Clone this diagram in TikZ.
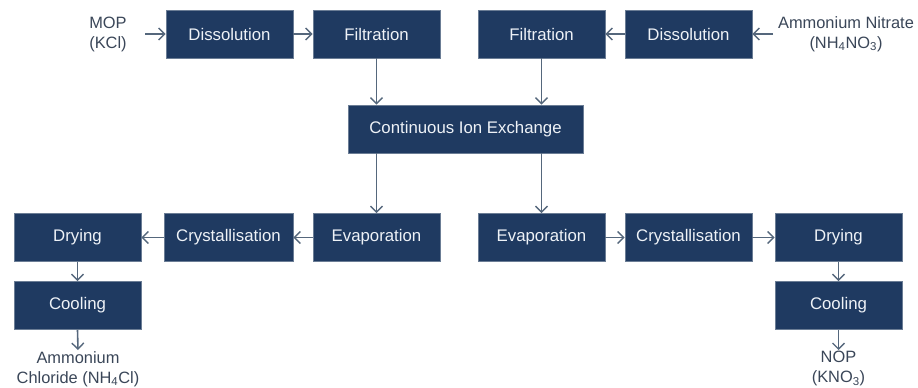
\documentclass[tikz,border=0pt]{standalone}
\usepackage{fontspec}
\setmainfont{Liberation Sans}
\usetikzlibrary{arrows.meta}
\definecolor{boxfill}{HTML}{1F3A61}
\definecolor{boxline}{HTML}{6B7D95}
\definecolor{arrowc}{HTML}{55677C}
\definecolor{labelc}{HTML}{3A4658}
\definecolor{boxtext}{HTML}{EEF2F7}
\begin{document}
\begin{tikzpicture}[x=1pt,y=-1pt,
  proc/.style={draw=boxline, line width=0.8pt, fill=boxfill, text=boxtext,
    minimum width=127pt, minimum height=48pt, inner sep=0pt,
    font=\fontsize{16.8}{20}\selectfont},
  lbl/.style={text=labelc, align=center, inner sep=1pt,
    font=\fontsize{16.4}{20}\selectfont},
  flow/.style={draw=arrowc, line width=1.6pt,
    -{Straight Barb[length=6pt,width=12pt,line width=1.4pt]}}]
\useasboundingbox (0,0) rectangle (918,388);
% top row
\node[proc] (dis1) at (229.5,34) {Dissolution};
\node[proc] (fil1) at (376.5,34) {Filtration};
\node[proc] (fil2) at (541.5,34) {Filtration};
\node[proc] (dis2) at (688.5,34) {Dissolution};
% middle
\node[proc, minimum width=235pt] (cie) at (465.5,129) {Continuous Ion Exchange};
% row 3
\node[proc] (dry1) at (77.5,237.5) {Drying};
\node[proc, minimum width=129pt] (cry1) at (228.5,237.5) {Crystallisation};
\node[proc] (eva1) at (376.5,237.5) {Evaporation};
\node[proc] (eva2) at (541.5,237.5) {Evaporation};
\node[proc] (cry2) at (688.5,237.5) {Crystallisation};
\node[proc] (dry2) at (838.5,237.5) {Drying};
% row 4
\node[proc] (cool1) at (77.5,305.5) {Cooling};
\node[proc] (cool2) at (838.5,305.5) {Cooling};
% labels
\node[lbl] (mop) at (108,34) {MOP\\(KCl)};
\node[lbl] (an) at (846,34) {Ammonium Nitrate\\(NH\textsubscript{4}NO\textsubscript{3})};
\node[lbl, anchor=north] (ac) at (78,350) {Ammonium\\Chloride (NH\textsubscript{4}Cl)};
\node[lbl, anchor=north] (nop) at (838.5,350) {NOP\\(KNO\textsubscript{3})};
\coordinate (mopA) at (145,34);
\coordinate (anA) at (773,34);
% connectors
\draw[flow] (mopA) -- (dis1.west);
\draw[flow] (dis1) -- (fil1);
\draw[flow] (anA) -- (dis2.east);
\draw[flow] (dis2) -- (fil2);
\draw[flow] (fil1.south) -- (fil1.south |- cie.north);
\draw[flow] (fil2.south) -- (fil2.south |- cie.north);
\draw[flow] (cie.south -| eva1.north) -- (eva1.north);
\draw[flow] (cie.south -| eva2.north) -- (eva2.north);
\draw[flow] (eva1) -- (cry1);
\draw[flow] (cry1) -- (dry1);
\draw[flow] (eva2) -- (cry2);
\draw[flow] (cry2) -- (dry2);
\draw[flow] (dry1) -- (cool1);
\draw[flow] (dry2) -- (cool2);
\draw[flow] (cool1.south) -- (ac.north);
\draw[flow] (cool2.south) -- (nop.north);
\end{tikzpicture}
\end{document}
